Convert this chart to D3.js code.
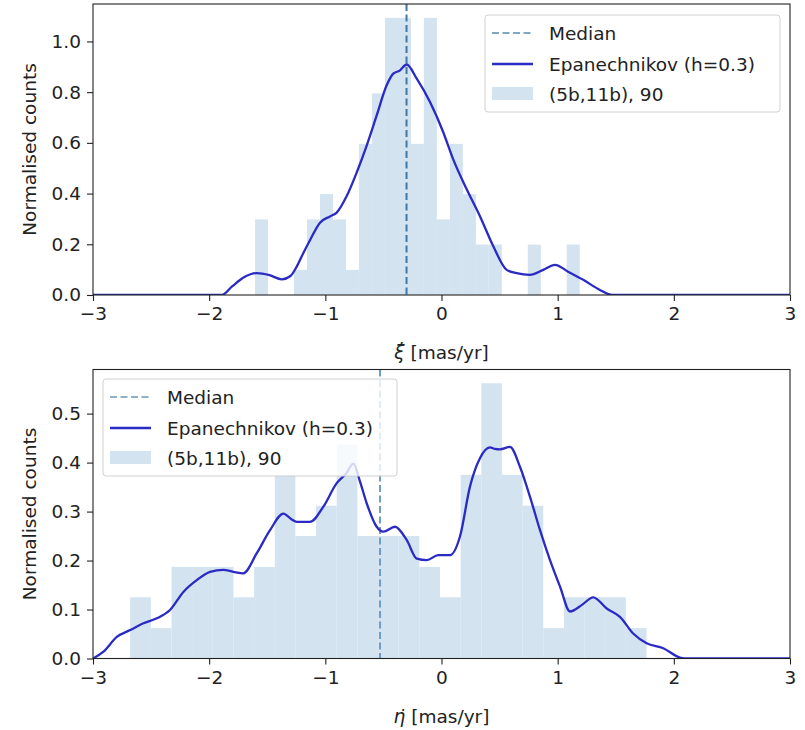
<!DOCTYPE html>
<html>
<head>
<meta charset="utf-8">
<script src="https://cdn.jsdelivr.net/npm/d3@7"></script>
<style>
  body { margin: 0; background: #fff; }
  text { font-family: "DejaVu Sans", sans-serif; fill: #222; }
</style>
</head>
<body>
<svg id="chart" width="805" height="730"></svg>
<script>
// ---------------- DATA ----------------
const xTicks = [-3, -2, -1, 0, 1, 2, 3];
const topYTicks = [0.0, 0.2, 0.4, 0.6, 0.8, 1.0];
const bottomYTicks = [0.0, 0.1, 0.2, 0.3, 0.4, 0.5];
const legendLabels = ["Median", "Epanechnikov (h=0.3)", "(5b,11b), 90"];

// Top panel (xi dot) histogram
const topBinEdges = [-1.605, -1.493, -1.381, -1.270, -1.158, -1.046, -0.934, -0.822, -0.711, -0.599,
  -0.487, -0.375, -0.263, -0.152, -0.040, 0.072, 0.184, 0.296, 0.407, 0.519,
  0.631, 0.743, 0.855, 0.966, 1.078, 1.190];
const topCounts = [0.298, 0, 0, 0.099, 0.298, 0.398, 0.298, 0.099, 0.596, 0.795,
  1.093, 1.093, 0.596, 1.093, 0.298, 0.596, 0.398, 0.199, 0.199, 0,
  0, 0.199, 0, 0, 0.199];
const topMedian = -0.301;
const topKdeX = [-3, -1.89, -1.80, -1.70, -1.59, -1.48, -1.375, -1.30, -1.246, -1.19, -1.13, -1.046, -0.96,
  -0.902, -0.816, -0.73, -0.644, -0.558, -0.472, -0.415, -0.36, -0.30, -0.213, -0.099, 0.015, 0.10,
  0.217, 0.331, 0.446, 0.561, 0.647, 0.76, 0.876, 0.977, 1.09, 1.22, 1.364, 1.47, 3];
const topKdeY = [0, 0, 0.035, 0.07, 0.086, 0.078, 0.062, 0.075, 0.112, 0.165, 0.218, 0.285, 0.31,
  0.325, 0.39, 0.483, 0.589, 0.708, 0.827, 0.873, 0.885, 0.909, 0.853, 0.761, 0.642, 0.536,
  0.417, 0.311, 0.192, 0.099, 0.086, 0.079, 0.099, 0.119, 0.092, 0.06, 0.02, 0, 0];

// Bottom panel (eta dot) histogram
const bottomBinEdges = [-2.680, -2.502, -2.324, -2.147, -1.969, -1.791, -1.613, -1.435, -1.258, -1.080,
  -0.902, -0.724, -0.546, -0.369, -0.191, -0.013, 0.165, 0.343, 0.520, 0.698,
  0.876, 1.054, 1.232, 1.409, 1.587, 1.765];
const bottomCounts = [0.125, 0.062, 0.187, 0.187, 0.187, 0.125, 0.187, 0.375, 0.250, 0.312,
  0.437, 0.250, 0.250, 0.250, 0.187, 0.125, 0.375, 0.562, 0.375, 0.312,
  0.062, 0.125, 0.125, 0.125, 0.062];
const bottomMedian = -0.529;
const bottomKdeX = [-3, -2.91, -2.795, -2.68, -2.566, -2.45, -2.337, -2.222, -2.107, -1.992, -1.878, -1.792,
  -1.706, -1.59, -1.476, -1.361, -1.29, -1.246, -1.132, -1.017, -0.902, -0.82, -0.759, -0.70, -0.644,
  -0.558, -0.501, -0.4, -0.3, -0.213, -0.127, -0.028, 0.073, 0.159, 0.245, 0.331, 0.417, 0.46, 0.503,
  0.589, 0.676, 0.762, 0.848, 0.934, 1.02, 1.106, 1.206, 1.306, 1.422, 1.536, 1.65, 1.766, 1.909,
  2.052, 2.11, 3];
const bottomKdeY = [0, 0.014, 0.044, 0.058, 0.072, 0.082, 0.099, 0.136, 0.160, 0.177, 0.181, 0.177,
  0.174, 0.215, 0.262, 0.296, 0.284, 0.279, 0.279, 0.31, 0.358, 0.378, 0.398, 0.36, 0.317,
  0.269, 0.259, 0.269, 0.242, 0.204, 0.201, 0.211, 0.211, 0.249, 0.351, 0.409, 0.431, 0.428, 0.427,
  0.432, 0.391, 0.330, 0.262, 0.201, 0.147, 0.096, 0.109, 0.125, 0.102, 0.085, 0.051, 0.031, 0.021,
  0.002, 0, 0];

// ---------------- DRAW ----------------
const svg = d3.select("#chart");
const FS = 18.5;

function panel(cfg) {
  const { top, bottom, left, right } = cfg.box;
  const x = d3.scaleLinear().domain([-3, 3]).range([left, right]);
  const yMax = d3.max(cfg.counts) * 1.05;
  const y = d3.scaleLinear().domain([0, yMax]).range([bottom, top]);
  const g = svg.append("g");

  const clipId = "clip" + cfg.id;
  svg.append("clipPath").attr("id", clipId).append("rect")
    .attr("x", left).attr("y", top).attr("width", right - left).attr("height", bottom - top);
  const plot = g.append("g").attr("clip-path", `url(#${clipId})`);

  // histogram
  const bins = cfg.counts.map((c, i) => ({ x0: cfg.edges[i], x1: cfg.edges[i + 1], v: c }));
  plot.selectAll("rect.bar").data(bins).join("rect")
    .attr("class", "bar")
    .attr("x", d => x(d.x0))
    .attr("width", d => x(d.x1) - x(d.x0))
    .attr("y", d => y(d.v))
    .attr("height", d => y(0) - y(d.v))
    .attr("fill", "#d3e3f0");

  // median
  plot.append("line")
    .attr("x1", x(cfg.median)).attr("x2", x(cfg.median))
    .attr("y1", top).attr("y2", bottom)
    .attr("stroke", cfg.medianColor).attr("stroke-width", 2)
    .attr("stroke-dasharray", "7,3.5");

  // kde
  const pts = cfg.kdeX.map((v, i) => [v, cfg.kdeY[i]]);
  plot.append("path")
    .datum(pts)
    .attr("fill", "none")
    .attr("stroke", "#2a2ac4")
    .attr("stroke-width", 2.3)
    .attr("stroke-linejoin", "round")
    .attr("d", d3.line().x(d => x(d[0])).y(d => y(d[1])).curve(d3.curveMonotoneX));

  // axes
  const xAxis = d3.axisBottom(x).tickValues(xTicks).tickSize(6).tickPadding(6)
    .tickFormat(d => d < 0 ? "\u2212" + Math.abs(d) : String(d));
  const gx = g.append("g").attr("transform", `translate(0,${bottom})`).call(xAxis);
  const yAxis = d3.axisLeft(y).tickValues(cfg.yTicks).tickSize(6).tickPadding(6)
    .tickFormat(d3.format(".1f"));
  const gy = g.append("g").attr("transform", `translate(${left},0)`).call(yAxis);
  [gx, gy].forEach(a => {
    a.select(".domain").remove();
    a.selectAll(".tick line").attr("stroke", "#222").attr("stroke-width", 1.1);
    a.selectAll(".tick text").attr("font-size", FS).attr("fill", "#222")
      .style("font-family", "'DejaVu Sans', sans-serif");
  });

  // frame
  g.append("rect").attr("x", left).attr("y", top)
    .attr("width", right - left).attr("height", bottom - top)
    .attr("fill", "none").attr("stroke", "#222").attr("stroke-width", 1.1);

  // x label
  const xl = g.append("text")
    .attr("x", (left + right) / 2).attr("y", bottom + 64)
    .attr("text-anchor", "middle").attr("font-size", FS);
  xl.append("tspan").attr("font-style", "italic").text(cfg.sym + "\u0307");
  xl.append("tspan").text(" [mas/yr]");

  // y label
  g.append("text")
    .attr("transform", `translate(${left - 57},${(top + bottom) / 2}) rotate(-90)`)
    .attr("text-anchor", "middle").attr("font-size", FS)
    .text("Normalised counts");

  // legend
  const L = cfg.legend;
  const lg = g.append("g");
  lg.append("rect").attr("x", L.x).attr("y", L.y).attr("width", L.w).attr("height", L.h)
    .attr("rx", 3).attr("fill", "rgba(255,255,255,0.8)").attr("stroke", "#d0d0d0");
  const rowY = [L.y + 18, L.y + 49, L.y + 79];
  const hx0 = L.x + 7, hx1 = L.x + 48;
  lg.append("line").attr("x1", hx0).attr("x2", hx1).attr("y1", rowY[0]).attr("y2", rowY[0])
    .attr("stroke", cfg.medianLegendColor).attr("stroke-width", 2).attr("stroke-dasharray", "7,3.5");
  lg.append("line").attr("x1", hx0).attr("x2", hx1).attr("y1", rowY[1]).attr("y2", rowY[1])
    .attr("stroke", "#2a2ac4").attr("stroke-width", 2.3);
  lg.append("rect").attr("x", hx0).attr("y", rowY[2] - 7).attr("width", hx1 - hx0).attr("height", 13)
    .attr("fill", "#d3e3f0");
  legendLabels.forEach((t, i) => {
    lg.append("text").attr("x", L.x + 64).attr("y", rowY[i] + 6.5).attr("font-size", FS).text(t);
  });
}

panel({
  id: "top", box: { top: 4, bottom: 295, left: 93, right: 790 },
  edges: topBinEdges, counts: topCounts, median: topMedian,
  kdeX: topKdeX, kdeY: topKdeY, yTicks: topYTicks, sym: "\u03BE",
  medianColor: "#3f78a6", medianLegendColor: "#7fa6c4",
  legend: { x: 485, y: 15, w: 295, h: 97 }
});
panel({
  id: "bot", box: { top: 369.5, bottom: 658.5, left: 93, right: 790 },
  edges: bottomBinEdges, counts: bottomCounts, median: bottomMedian,
  kdeX: bottomKdeX, kdeY: bottomKdeY, yTicks: bottomYTicks, sym: "\u03B7",
  medianColor: "#6f9cc2", medianLegendColor: "#8fb0c8",
  legend: { x: 103, y: 379, w: 294, h: 97 }
});
</script>
</body>
</html>
